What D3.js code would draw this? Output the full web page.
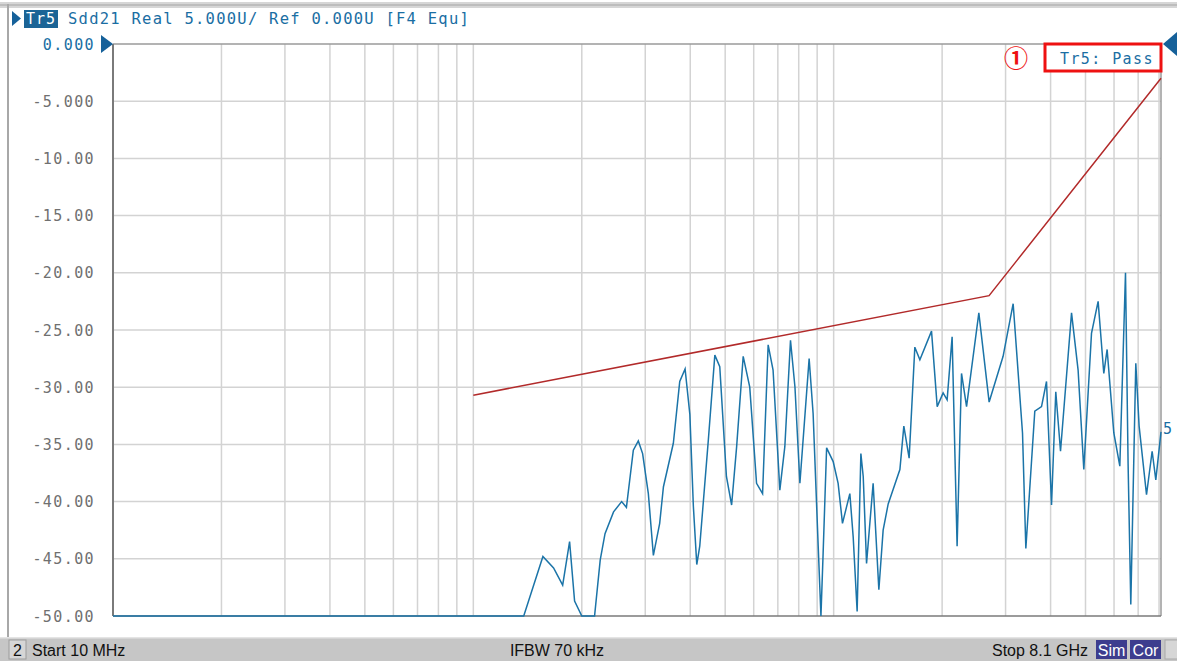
<!DOCTYPE html>
<html>
<head>
<meta charset="utf-8">
<script src="https://cdn.jsdelivr.net/npm/d3@7"></script>
<style>
  body { margin: 0; background: #fff; }
  svg { display: block; }
  .mono { font-family: "DejaVu Sans Mono", monospace; }
</style>
</head>
<body>
<div id="canvas"></div>
<script>
const w = 1177;
const h = 661;
const padL = 113, padR = 1161, padT = 44, padB = 616;

// Sdd21 trace, frequency in MHz, value in U
const traceFreq = [10, 138, 156, 167, 177, 185, 191, 200, 217, 225, 232, 245, 258, 266, 278, 287, 295, 306, 316, 329, 337, 359, 374, 387, 399, 408, 417, 425, 449, 468, 483, 504, 521, 538, 561, 585, 611, 635, 658, 679, 709, 732, 759, 781, 806, 855, 877, 906, 922, 935, 956, 997, 1029, 1058, 1109, 1133, 1162, 1190, 1208, 1234, 1287, 1335, 1372, 1417, 1527, 1566, 1620, 1680, 1735, 1869, 1938, 2013, 2065, 2132, 2201, 2264, 2338, 2529, 2701, 2953, 3149, 3343, 3415, 3616, 3775, 3897, 4024, 4135, 4262, 4573, 4769, 4946, 5195, 5420, 5620, 5741, 5992, 6226, 6456, 6564, 6678, 6895, 7043, 7384, 7654, 7836, 8100];
const traceVal = [-50, -50, -44.8, -45.8, -47.3, -43.5, -48.7, -50, -50, -45.1, -42.8, -40.9, -40.0, -40.5, -35.5, -34.7, -35.8, -39.3, -44.7, -41.9, -38.7, -34.9, -29.5, -28.4, -32.4, -40.4, -45.5, -43.9, -34.6, -27.2, -28.2, -37.8, -40.3, -35.2, -27.3, -30.0, -38.4, -39.3, -26.3, -28.5, -39.0, -35.2, -25.9, -30.0, -38.4, -27.5, -32.3, -43.9, -50, -44.5, -35.3, -36.5, -38.4, -41.9, -39.3, -43.1, -49.6, -35.8, -37.8, -45.4, -38.4, -47.7, -42.5, -40.2, -37.2, -33.4, -36.2, -26.5, -27.6, -25.1, -31.7, -30.5, -31.1, -25.6, -43.9, -28.8, -31.7, -23.5, -31.3, -27.3, -22.7, -34.0, -44.1, -32.1, -31.7, -29.5, -40.3, -30.4, -35.6, -23.5, -28.5, -37.2, -25.3, -22.5, -28.8, -26.7, -34.0, -36.9, -20.0, -36.7, -49.0, -27.9, -33.4, -39.4, -35.6, -38.1, -33.9];

// limit line
const limitFreq = [100, 2700, 8100];
const limitVal = [-30.7, -22.0, -3.0];

const yTicks = [0, -5, -10, -15, -20, -25, -30, -35, -40, -45, -50];
const yTickLabels = ["0.000", "-5.000", "-10.00", "-15.00", "-20.00", "-25.00", "-30.00", "-35.00", "-40.00", "-45.00", "-50.00"];

const blue = "#1a6ea3";

let svg = d3.select("#canvas").append("svg").attr("width", w).attr("height", h);

let x = d3.scaleLog().domain([10, 8100]).range([padL, padR]);
let y = d3.scaleLinear().domain([-50, 0]).range([padB, padT]);

// outer frame
svg.append("rect").attr("x", 0).attr("y", 2).attr("width", w).attr("height", 6).attr("fill", "#d6d6d6");
svg.append("rect").attr("x", 0).attr("y", 4).attr("width", w).attr("height", 2).attr("fill", "#bdbdbd");
svg.append("rect").attr("x", 7).attr("y", 4).attr("width", 2).attr("height", 634).attr("fill", "#a8a8a8");

// vertical grid
let vgrid = [];
[10, 100, 1000].forEach(function(dec) {
  for (let m = 1; m < 10; m++) {
    let f = dec * m;
    if (f > 10 && f < 8100) vgrid.push(f);
  }
});
svg.append("g").selectAll("line").data(vgrid).enter().append("line")
  .attr("x1", (d) => x(d)).attr("x2", (d) => x(d))
  .attr("y1", padT).attr("y2", padB)
  .attr("stroke", "#d3d3d3").attr("stroke-width", 1.5);

svg.append("g").selectAll("line").data(yTicks.slice(1, -1)).enter().append("line")
  .attr("x1", padL).attr("x2", padR)
  .attr("y1", (d) => y(d)).attr("y2", (d) => y(d))
  .attr("stroke", "#d3d3d3").attr("stroke-width", 1.5);

// plot frame
svg.append("line").attr("x1", padL).attr("x2", padR).attr("y1", padT).attr("y2", padT).attr("stroke", "#9a9a9a").attr("stroke-width", 1.5);
svg.append("line").attr("x1", padR).attr("x2", padR).attr("y1", padT).attr("y2", padB).attr("stroke", "#9a9a9a").attr("stroke-width", 1.5);
svg.append("line").attr("x1", padL).attr("x2", padR).attr("y1", padB).attr("y2", padB).attr("stroke", "#7a7a7a").attr("stroke-width", 1.5);
svg.append("line").attr("x1", padL).attr("x2", padL).attr("y1", padT).attr("y2", padB).attr("stroke", "#7a7a7a").attr("stroke-width", 2);

// y labels
svg.append("g").selectAll("text").data(yTicks).enter().append("text")
  .attr("class", "mono")
  .attr("x", 95).attr("y", (d) => y(d) + 5.5)
  .attr("text-anchor", "end")
  .attr("font-size", 15).attr("letter-spacing", 1.4)
  .attr("fill", (d, i) => i == 0 ? blue : "#707070")
  .text((d, i) => yTickLabels[i]);

// limit line
let limitData = limitFreq.map((f, i) => [f, limitVal[i]]);
svg.append("path").datum(limitData)
  .attr("d", d3.line().x((d) => x(d[0])).y((d) => y(d[1])))
  .attr("fill", "none").attr("stroke", "#b22a2a").attr("stroke-width", 1.5);

// trace
let traceData = traceFreq.map((f, i) => [f, traceVal[i]]);
svg.append("path").datum(traceData)
  .attr("d", d3.line().x((d) => x(d[0])).y((d) => y(d[1])))
  .attr("fill", "none").attr("stroke", "#1b74a8").attr("stroke-width", 1.5);

// reference markers
svg.append("path").attr("d", `M${padL - 12},${padT - 9} L${padL},${padT} L${padL - 12},${padT + 9} Z`).attr("fill", "#16619a");
svg.append("path").attr("d", `M${w},${padT - 12} L${padR + 2},${padT} L${w},${padT + 12} Z`).attr("fill", "#16619a");
svg.append("text").attr("class", "mono").attr("x", 1163).attr("y", 434).attr("font-size", 15).attr("fill", blue).text("5");

// header
svg.append("path").attr("d", "M12,11 L21,18.5 L12,26 Z").attr("fill", "#16619a");
svg.append("rect").attr("x", 24).attr("y", 10).attr("width", 34).attr("height", 18).attr("fill", "#1b6496");
svg.append("text").attr("class", "mono").attr("x", 26).attr("y", 24).attr("font-size", 15).attr("letter-spacing", 1).attr("fill", "#fff").text("Tr5");
svg.append("text").attr("class", "mono").attr("x", 68).attr("y", 24).attr("font-size", 15.5).attr("letter-spacing", 1.25)
  .attr("fill", blue).text("Sdd21 Real 5.000U/ Ref 0.000U [F4 Equ]");

// pass box
svg.append("rect").attr("x", 1045).attr("y", 44).attr("width", 116).attr("height", 27)
  .attr("fill", "#fff").attr("stroke", "#ee1111").attr("stroke-width", 3);
svg.append("text").attr("class", "mono").attr("x", 1060).attr("y", 64).attr("font-size", 15).attr("letter-spacing", 1.4)
  .attr("fill", blue).text("Tr5: Pass");
svg.append("text").attr("font-family", "Noto Sans CJK SC, sans-serif").attr("x", 1016).attr("y", 67).attr("text-anchor", "middle")
  .attr("font-size", 24).attr("font-weight", "bold")
  .attr("fill", "#ee1111").text("①");

// status bar
svg.append("rect").attr("x", 0).attr("y", 637).attr("width", w).attr("height", 24).attr("fill", "#c6c6c6");
svg.append("rect").attr("x", 0).attr("y", 637).attr("width", w).attr("height", 1.5).attr("fill", "#e4e4e4");
svg.append("rect").attr("x", 9).attr("y", 640).attr("width", 17).attr("height", 19).attr("fill", "#d6d6d6").attr("stroke", "#9c9c9c");
svg.append("rect").attr("x", 1096).attr("y", 640).attr("width", 31).attr("height", 19).attr("fill", "#3d3d8e");
svg.append("rect").attr("x", 1130).attr("y", 640).attr("width", 31).attr("height", 19).attr("fill", "#3d3d8e");
svg.append("rect").attr("x", 1165).attr("y", 640).attr("width", 14).attr("height", 19).attr("fill", "#d6d6d6").attr("stroke", "#a8a8a8");
let st = svg.append("g").attr("font-family", "Liberation Sans, sans-serif").attr("font-size", 16).attr("fill", "#111");
st.append("text").attr("x", 13).attr("y", 656).text("2");
st.append("text").attr("x", 32).attr("y", 656).text("Start 10 MHz");
st.append("text").attr("x", 557).attr("y", 656).attr("text-anchor", "middle").text("IFBW 70 kHz");
st.append("text").attr("x", 1088).attr("y", 656).attr("text-anchor", "end").text("Stop 8.1 GHz");
st.append("text").attr("x", 1111.5).attr("y", 656).attr("text-anchor", "middle").attr("fill", "#fff").text("Sim");
st.append("text").attr("x", 1145.5).attr("y", 656).attr("text-anchor", "middle").attr("fill", "#fff").text("Cor");
</script>
</body>
</html>
